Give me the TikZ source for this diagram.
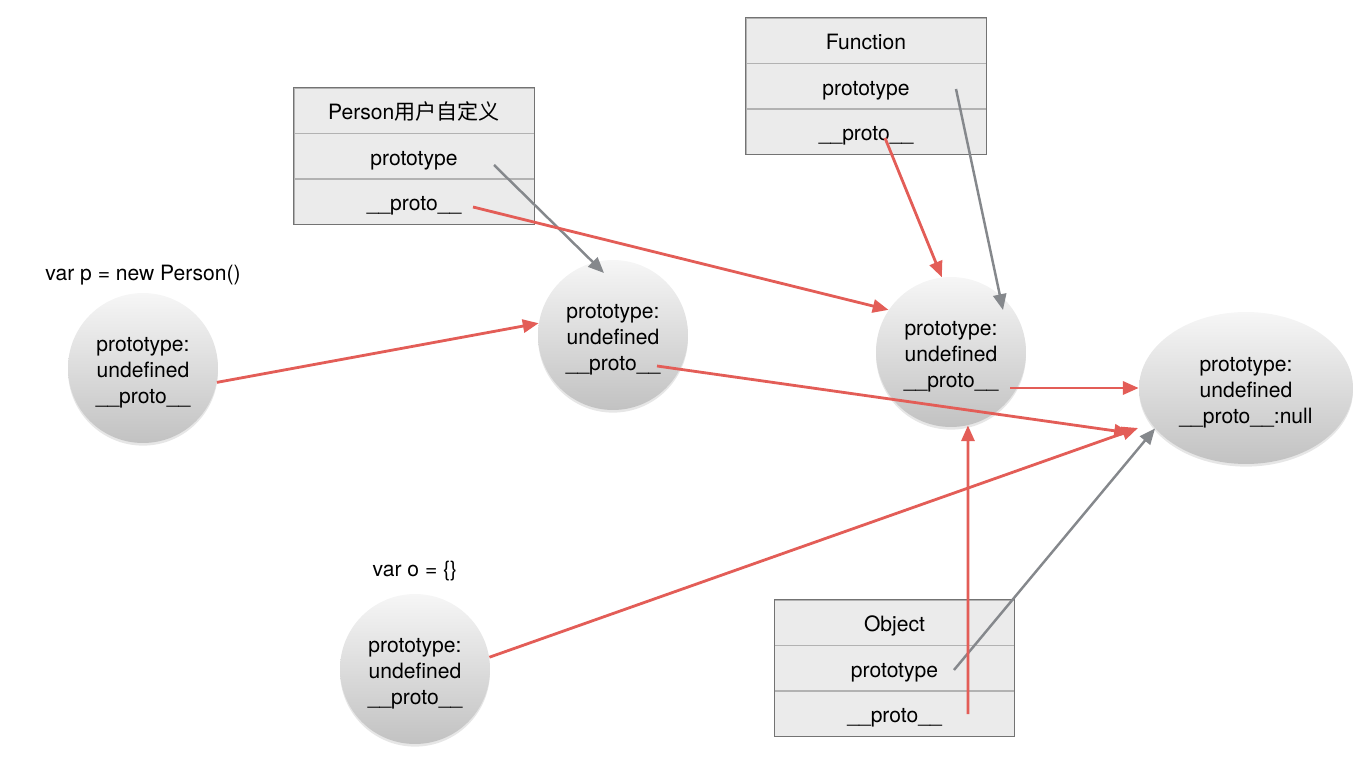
\documentclass[tikz,border=0pt]{standalone}
\usepackage{fontspec}
\setmainfont{TeX Gyre Heros}
\newfontfamily\cjk{Noto Sans CJK SC}
\usetikzlibrary{positioning, shapes.geometric, shadows, arrows.meta}
\definecolor{linkred}{HTML}{E35D57}
\definecolor{linkgray}{HTML}{85888C}
\definecolor{rowfill}{HTML}{EBEBEB}
\newcommand\objtext[2]{\rule{0pt}{13pt}prototype:\\#1\\#2}
\tikzset{
    row/.style={rectangle, fill=rowfill, draw=black!30, minimum width=4.8cm, minimum height=0.9cm, inner sep=0pt,
        text height=12.6pt, text depth=2.4pt, font=\fontsize{12}{14.8}\selectfont},
    frame/.style={draw=black!55, line width=0.6pt},
    obj/.style={circle, minimum size=3cm, inner sep=0pt, align=center, top color=gray!7, bottom color=gray!48,
        drop shadow={opacity=0.2, shadow xshift=0pt, shadow yshift=-1.5pt}, font=\fontsize{12}{14.8}\selectfont},
    decl/.style={font=\fontsize{12}{14.8}\selectfont},
    protoarrow/.style={-{Triangle[length=9pt,width=7.5pt]}, linkred, line width=1.6pt},
    typearrow/.style={-{Triangle[length=9pt,width=7.5pt]}, linkgray, line width=1.4pt} }

\begin{document}
\begin{tikzpicture}[x=0.02cm, y=-0.02cm]
    \useasboundingbox (0,0) rectangle (1372,766);
    % constructors
    \node[row] (P1) at (414,110.5) {Person{\cjk 用户自定义}};
    \node[row, below=0pt of P1] (P2) {prototype};
    \node[row, below=0pt of P2] (P3) {\_\_proto\_\_};
    \draw[frame] (P1.north west) rectangle (P3.south east);
    \node[row] (F1) at (866,40.5) {Function};
    \node[row, below=0pt of F1] (F2) {prototype};
    \node[row, below=0pt of F2] (F3) {\_\_proto\_\_};
    \draw[frame] (F1.north west) rectangle (F3.south east);
    \node[row] (O1) at (894.5,622.5) {Object};
    \node[row, below=0pt of O1] (O2) {prototype};
    \node[row, below=0pt of O2] (O3) {\_\_proto\_\_};
    \draw[frame] (O1.north west) rectangle (O3.south east);
    % objects
    \node[decl] (pdecl) at (143,275) {var p = new Person()};
    \node[obj] (p) at (143,368) {\objtext{undefined}{\_\_proto\_\_}};
    \node[obj] (A) at (613,335) {\objtext{undefined}{\_\_proto\_\_}};
    \node[obj] (B) at (951,352) {\objtext{undefined}{\_\_proto\_\_}};
    \node[obj, ellipse, minimum width=4.28cm, minimum height=3.04cm] (C) at (1246,388) {\objtext{undefined}{\_\_proto\_\_:null}};
    \node[decl] (odecl) at (415,571) {var o = \{\}};
    \node[obj] (o) at (415,669) {\objtext{undefined}{\_\_proto\_\_}};
    % ----
    \coordinate (Pproto) at (494,165);
    \coordinate (Plink) at (473,207);
    \coordinate (Fproto) at (956,89);
    \coordinate (Flink) at (885,138);
    \coordinate (Oproto) at (954,670);
    \coordinate (Olink) at (968,714);
    \coordinate (Alink) at (657,366);
    \coordinate (Blink) at (1010,388);
    \coordinate (Cin) at (1130,433);
    \coordinate (Cin2) at (1138,428);
    \path[typearrow]
        (Pproto) edge ([shift={(-9,-62)}]A.center)
        (Fproto) edge ([shift={(52,-42)}]B.center)
        (Oproto) edge (C.204);
    \path[protoarrow]
        (p.-11) edge (A.171)
        (Plink) edge (B.146)
        (Flink) edge (B.97)
        (Alink) edge (Cin)
        (Blink) edge (C.west)
        (o.9) edge (Cin2)
        (Olink) edge (B.-77);
\end{tikzpicture}
\end{document}
